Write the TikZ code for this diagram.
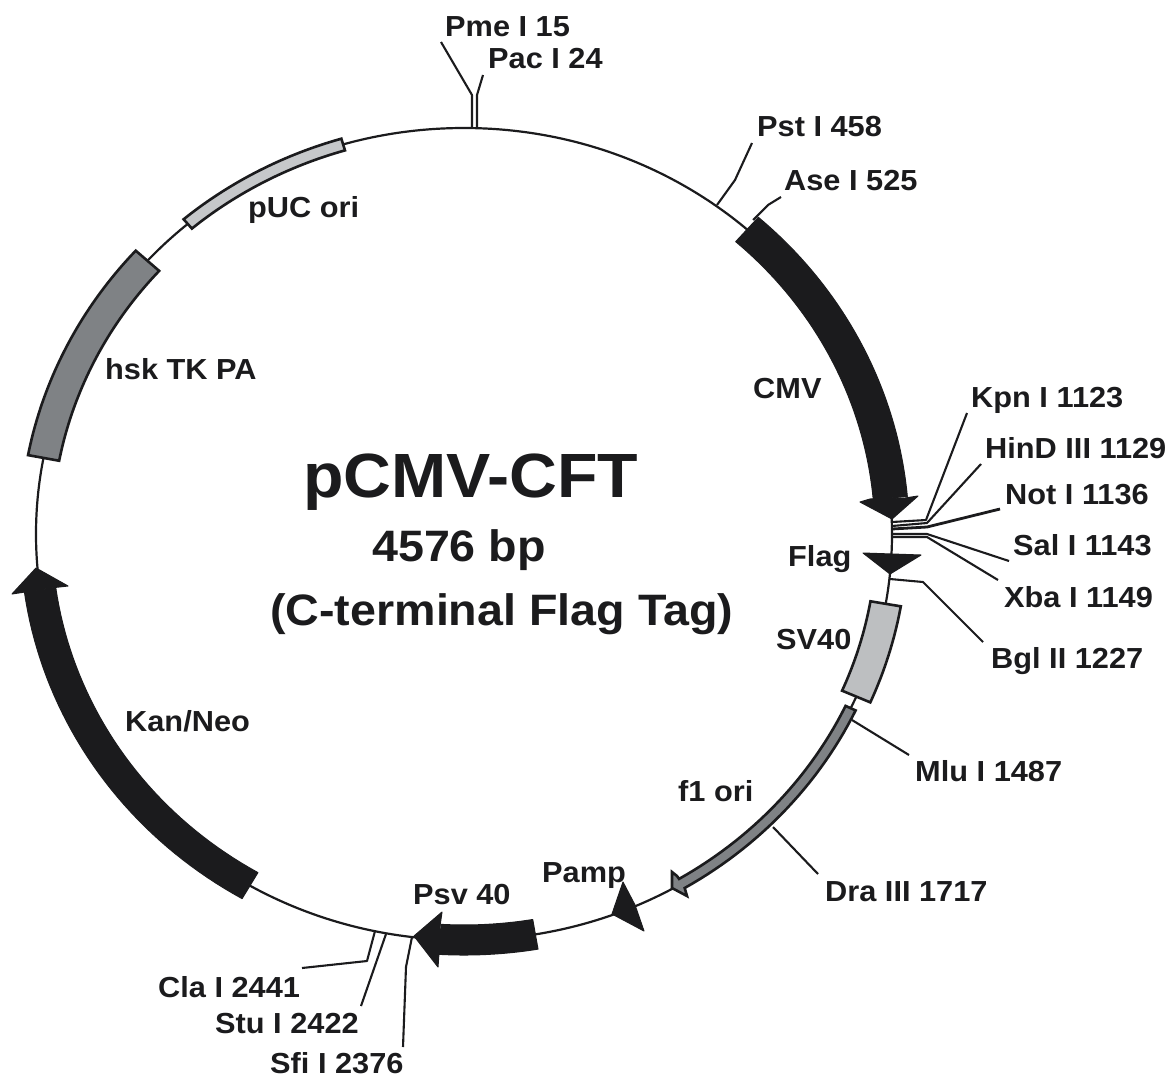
\documentclass[tikz,border=0pt]{standalone}
\usepackage{fontspec}
\setmainfont{Liberation Sans}[FakeStretch=1.06]
\definecolor{ink}{HTML}{1B1B1D}
\definecolor{bandA}{HTML}{7F8285}
\definecolor{bandB}{HTML}{BDBFC1}
\definecolor{bandC}{HTML}{C6C8CA}
\newcommand{\bandpath}[4]{plot[domain=#1:#2,samples=40,variable=\t] ({464+428*#3*cos(\t)},{534-406*#3*sin(\t)}) -- plot[domain=#2:#1,samples=40,variable=\t] ({464+428*#4*cos(\t)},{534-406*#4*sin(\t)}) -- cycle}
\tikzset{
  lab/.style={anchor=base west,inner sep=0pt,text=ink,font=\bfseries\fontsize{29}{30}\selectfont},
  ttl/.style={anchor=base west,inner sep=0pt,text=ink,font=\bfseries\fontsize{#1}{#1}\selectfont},
  leader/.style={draw=ink,line width=2.1pt,line join=round},
  solidband/.style={fill=ink,draw=ink,line width=1pt,line join=round},
  boxband/.style={fill=#1,draw=ink,line width=2.6pt,line join=miter}
}
\begin{document}
\begin{tikzpicture}[x=1pt,y=-1pt]
\useasboundingbox (0,0) rectangle (1170,1077);
% plasmid ring
\draw[draw=ink,line width=2.2pt] (464,534) ellipse [x radius=428pt,y radius=406pt];
% features
\fill[solidband] \bandpath{48.6}{5.1}{1.04}{0.96};
\fill[solidband] (860,502) -- (892,519) -- (918,496) -- (905,498) -- (870,499) -- cycle;
\fill[solidband] (863,553) -- (921,555) -- (890,574) -- cycle;
\filldraw[boxband=bandB] \bandpath{-9.9}{-23.6}{1.036}{0.964};
\filldraw[boxband=bandA] (672,872) -- (677,876) -- plot[domain=-59.4:-25.4,samples=30,variable=\t] ({464+428*0.987*cos(\t)},{534-406*0.987*sin(\t)}) -- plot[domain=-25.4:-59.4,samples=30,variable=\t] ({464+428*1.013*cos(\t)},{534-406*1.013*sin(\t)}) -- (687,896) -- (672,888) -- cycle;
\fill[solidband] (623,882) -- (635,905) -- (644,931) -- (612,914) -- cycle;
\fill[solidband] \bandpath{-80.4}{-93.2}{1.037}{0.963};
\fill[solidband] (414,936) -- (442,912) -- (440,926) -- (439,953) -- (438,967) -- cycle;
\fill[solidband] \bandpath{187.9}{240}{1.037}{0.963};
\fill[solidband] (36,568) -- (68,586) -- (50,588) -- (25,592) -- (12,594) -- cycle;
\filldraw[boxband=bandA] \bandpath{137.7}{169.2}{1.037}{0.963};
\filldraw[boxband=bandC] \bandpath{106.4}{130.2}{1.015}{0.985};
% labels
\node[lab] (pme) at (445,36) {Pme I 15};
\node[lab] (pac) at (488,68) {Pac I 24};
\node[lab] (pst) at (757,136) {Pst I 458};
\node[lab] (ase) at (784,190) {Ase I 525};
\node[lab] (kpn) at (971,407) {Kpn I 1123};
\node[lab] (hind) at (985,458) {HinD III 1129};
\node[lab] (not) at (1005,504) {Not I 1136};
\node[lab] (sal) at (1013,555) {Sal I 1143};
\node[lab] (xba) at (1004,607) {Xba I 1149};
\node[lab] (bgl) at (991,668) {Bgl II 1227};
\node[lab] (mlu) at (915,781) {Mlu I 1487};
\node[lab] (dra) at (825,901) {Dra III 1717};
\node[lab] (cla) at (158,997) {Cla I 2441};
\node[lab] (stu) at (215,1033) {Stu I 2422};
\node[lab] (sfi) at (270,1073) {Sfi I 2376};
\node[lab] (cmv) at (753,398) {CMV};
\node[lab] (flag) at (788,566) {Flag};
\node[lab] (sv) at (776,649) {SV40};
\node[lab] (f1) at (678,801) {f1 ori};
\node[lab] (pamp) at (542,882) {Pamp};
\node[lab] (psv) at (413,904) {Psv 40};
\node[lab] (kan) at (125,731) {Kan/Neo};
\node[lab] (hsk) at (105,379) {hsk TK PA};
\node[lab] (puc) at (248,217) {pUC ori};
\node[ttl=62.5] (title) at (303,497) {pCMV-CFT};
\node[ttl=44] (size) at (372,561) {4576 bp};
\node[ttl=44] (tag) at (270,625) {(C-terminal Flag Tag)};
% leader ends on the ring and beside the labels
\coordinate (spme) at (472,128); \coordinate (epme) at (441,42);
\coordinate (spac) at (477,128); \coordinate (epac) at (483,75);
\coordinate (spst) at (717,205); \coordinate (epst) at (752,143);
\coordinate (sase) at (753,220); \coordinate (ease) at (781,197);
\coordinate (skpn) at (892,522); \coordinate (ekpn) at (967,413);
\coordinate (shin) at (892,526); \coordinate (ehin) at (981,464);
\coordinate (snot) at (892,529); \coordinate (enot) at (1000,509);
\coordinate (ssal) at (892,534); \coordinate (esal) at (1009,561);
\coordinate (sxba) at (892,537); \coordinate (exba) at (998,580);
\coordinate (sbgl) at (890,579); \coordinate (ebgl) at (983,642);
\coordinate (smlu) at (852,720); \coordinate (emlu) at (909,755);
\coordinate (sdra) at (773,827); \coordinate (edra) at (818,874);
\coordinate (scla) at (375,931); \coordinate (ecla) at (302,968);
\coordinate (sstu) at (386,934); \coordinate (estu) at (361,1006);
\coordinate (ssfi) at (412,937); \coordinate (esfi) at (403,1047);
% leaders
\draw[leader] (spme) -- (472,95) -- (epme);
\draw[leader] (spac) -- (477,95) -- (epac);
\draw[leader] (spst) -- (735,180) -- (epst);
\draw[leader] (sase) -- (768,205) -- (ease);
\draw[leader] (skpn) -- (926,520) -- (ekpn);
\draw[leader] (shin) -- (927,523) -- (ehin);
\draw[leader,line width=2.8pt] (snot) -- (927,527) -- (enot);
\draw[leader] (ssal) -- (927,534) -- (esal);
\draw[leader] (sxba) -- (927,537) -- (exba);
\draw[leader] (sbgl) -- (923,582) -- (ebgl);
\draw[leader] (smlu) -- (emlu);
\draw[leader] (sdra) -- (edra);
\draw[leader] (scla) -- (367,961) -- (ecla);
\draw[leader] (sstu) -- (estu);
\draw[leader] (ssfi) -- (406,967) -- (esfi);
\end{tikzpicture}
\end{document}
